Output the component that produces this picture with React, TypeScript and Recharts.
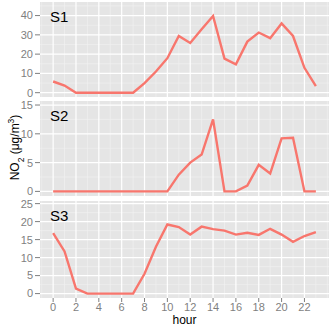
import React from 'react';
import { LineChart, Line, XAxis, YAxis, CartesianGrid, Label } from 'recharts';

const hours = [0, 1, 2, 3, 4, 5, 6, 7, 8, 9, 10, 11, 12, 13, 14, 15, 16, 17, 18, 19, 20, 21, 22, 23];
const s1 = [5.8, 3.7, 0, 0, 0, 0, 0, 0, 5, 11, 17.9, 29.4, 25.8, 32.9, 39.8, 17.7, 14.7, 26.5, 31.2, 28.3, 35.9, 29.4, 12.9, 3.4];
const s2 = [0, 0, 0, 0, 0, 0, 0, 0, 0, 0, 0, 2.9, 5.0, 6.4, 12.5, 0, 0, 1.0, 4.6, 3.1, 9.2, 9.3, 0, 0];
const s3 = [16.8, 11.7, 1.4, 0, 0, 0, 0, 0, 5.5, 13.0, 19.2, 18.5, 16.4, 18.6, 17.9, 17.5, 16.4, 16.9, 16.3, 18.0, 16.4, 14.4, 16.0, 17.1];

const xTicks = [0, 2, 4, 6, 8, 10, 12, 14, 16, 18, 20, 22];
const xMinor = [-1, 1, 3, 5, 7, 9, 11, 13, 15, 17, 19, 21, 23, 24];
const xDomain = [-1.15, 24.15];

const panels = [
  { name: 'S1', values: s1, ticks: [0, 10, 20, 30, 40], minor: [5, 15, 25, 35, 45], domain: [-2.24, 47.04] },
  { name: 'S2', values: s2, ticks: [0, 5, 10, 15], minor: [2.5, 7.5, 12.5], domain: [-0.8, 15.7] },
  { name: 'S3', values: s3, ticks: [0, 5, 10, 15, 20, 25], minor: [2.5, 7.5, 12.5, 17.5, 22.5], domain: [-1.225, 25.725] },
];

const FONT = '"Liberation Sans", Arial, Helvetica, sans-serif';
const GREY = '#7F7F7F';

const PanelLabel = (text: string) => (props: any) => {
  const vb = props.viewBox || {};
  return (
    <text x={vb.x + vb.width + 10} y={vb.y + 20} fontSize={15} fill="#000" fontFamily={FONT}>
      {text}
    </text>
  );
};

const YTitle = (props: any) => {
  const vb = props.viewBox || {};
  const cy = vb.y + vb.height / 2 - 1;
  return (
    <text transform={`translate(18.5, ${cy}) rotate(-90)`} textAnchor="middle" fontSize={12} fill="#000" fontFamily={FONT}>
      NO<tspan baselineShift="sub" fontSize={8.5}>2</tspan>
      <tspan> (μg/m</tspan>
      <tspan baselineShift="super" fontSize={8.5}>3</tspan>
      <tspan>)</tspan>
    </text>
  );
};

function Panel({ idx, top, height, margin, showX }: any) {
  const p = panels[idx];
  const data = hours.map((h, i) => ({ hour: h, value: p.values[i] }));
  return (
    <div style={{ position: 'absolute', left: 0, top, width: 332, height }}>
      <LineChart width={332} height={height} data={data} margin={margin}>
        <CartesianGrid
          fill="#E5E5E5"
          stroke="#F2F2F2"
          strokeWidth={0.6}
          horizontalValues={p.minor}
          verticalValues={xMinor}
        />
        <CartesianGrid
          fill="none"
          stroke="#FFFFFF"
          strokeWidth={1.2}
          horizontalValues={p.ticks}
          verticalValues={xTicks}
        />
        <XAxis
          dataKey="hour"
          type="number"
          domain={xDomain}
          ticks={xTicks}
          interval={0}
          hide={!showX}
          height={showX ? 30 : 0}
          axisLine={false}
          tickLine={{ stroke: GREY }}
          tickSize={4}
          tickMargin={1}
          tick={{ fill: GREY, fontSize: 11, fontFamily: FONT }}
          allowDataOverflow
        >
          {showX ? (
            <Label value="hour" position="insideBottom" offset={4} fill="#000" fontSize={12} fontFamily={FONT} />
          ) : null}
        </XAxis>
        <YAxis
          type="number"
          domain={p.domain}
          ticks={p.ticks}
          interval={0}
          width={40}
          axisLine={false}
          tickLine={{ stroke: GREY }}
          tickSize={5}
          tickMargin={2}
          tick={{ fill: GREY, fontSize: 11, fontFamily: FONT }}
          allowDataOverflow
        >
          <Label content={PanelLabel(p.name)} />
          {idx === 1 ? <Label content={YTitle} /> : null}
        </YAxis>
        <Line
          type="linear"
          dataKey="value"
          stroke="#F8766D"
          strokeWidth={2.4}
          dot={false}
          activeDot={false}
          isAnimationActive={false}
        />
      </LineChart>
    </div>
  );
}

export default function App() {
  return (
    <div style={{ position: 'absolute', left: 0, top: 0, width: 332, height: 332, background: '#fff', fontFamily: FONT }}>
      <Panel idx={0} top={0} height={100} margin={{ top: 2, right: 3, bottom: 3, left: 0 }} showX={false} />
      <Panel idx={1} top={99} height={100} margin={{ top: 2, right: 3, bottom: 3, left: 0 }} showX={false} />
      <Panel idx={2} top={199} height={133} margin={{ top: 2, right: 3, bottom: 4, left: 0 }} showX={true} />
    </div>
  );
}
